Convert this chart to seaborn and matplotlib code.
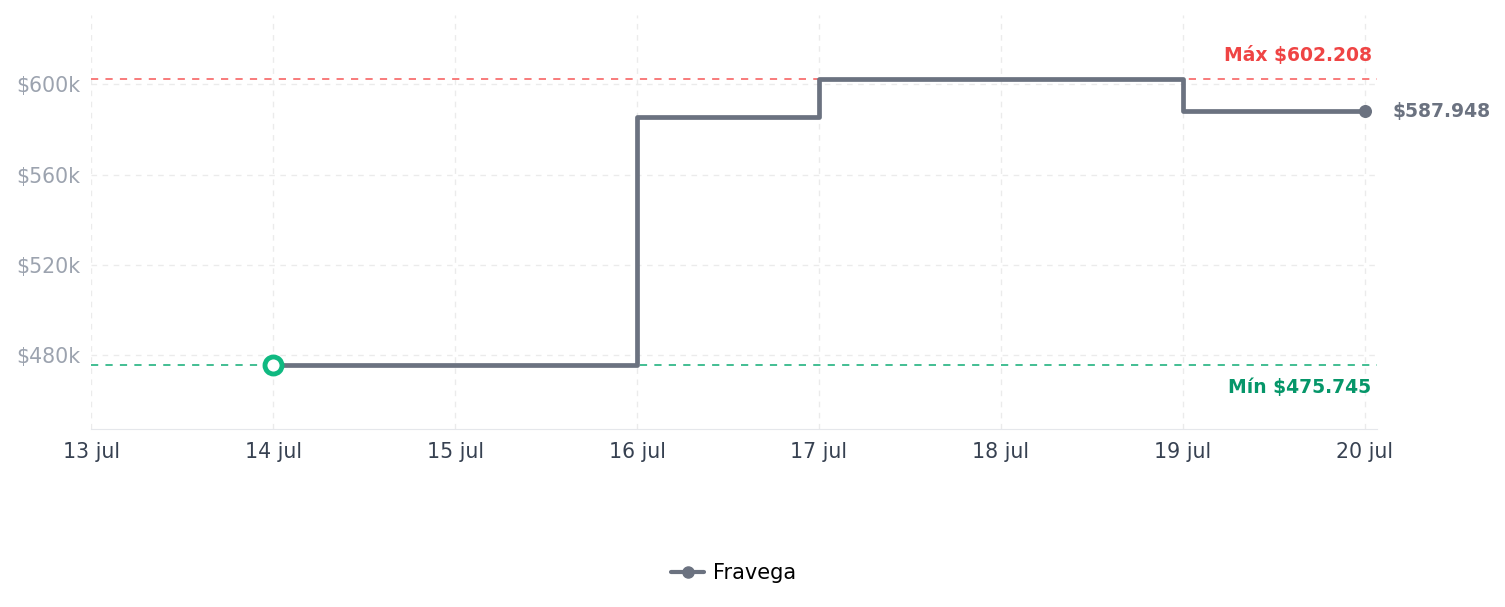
import pandas as pd
import matplotlib
matplotlib.use('Agg')
import matplotlib.pyplot as plt
import seaborn as sns

dates = ['2025-07-14', '2025-07-15', '2025-07-16', '2025-07-17',
         '2025-07-18', '2025-07-19', '2025-07-20']
prices = [475745, 475745, 585400, 602208, 602208, 587948, 587948]
store = 'Fravega'
max_price = 602208
min_price = 475745
y_ticks = [480000, 520000, 560000, 600000]
y_labels = ['$480k', '$520k', '$560k', '$600k']

data = pd.DataFrame({'date': pd.to_datetime(dates), 'price': prices, 'store': store})

sns.set_style('white')
plt.rcParams['font.family'] = ['DejaVu Sans']

fig = plt.figure(figsize=(15.05, 6.07), dpi=100)
ax = fig.add_axes([0.0605, 0.293, 0.8545, 0.682])

gray = '#6b7280'
sns.lineplot(data=data, x='date', y='price', ax=ax, color=gray, linewidth=3.4,
             drawstyle='steps-post', label=store, zorder=3)

# reference lines
ax.axhline(max_price, color='#f87171', linestyle=(0, (4, 4)), linewidth=1.3, zorder=2)
ax.axhline(min_price, color='#34b98a', linestyle=(0, (4, 4)), linewidth=1.3, zorder=2)

# start / end markers
ax.scatter(data['date'].iloc[0], prices[0], s=150, facecolor='white',
           edgecolor='#10b981', linewidth=3.5, zorder=5)
ax.scatter(data['date'].iloc[-1], prices[-1], s=70, color=gray, zorder=5)

days = pd.date_range('2025-07-13', '2025-07-20')
ax.set_xlim(days[0], days[-1] + pd.Timedelta(hours=1.6))
ax.set_ylim(447200, 630600)

ax.annotate(f'Máx ${max_price:,}'.replace(',', '.'), xy=(1, max_price),
            xycoords=('axes fraction', 'data'), xytext=(-4, 17), textcoords='offset points',
            ha='right', va='center', color='#ef4444', fontsize=13.5, fontweight='bold')
ax.annotate(f'Mín ${min_price:,}'.replace(',', '.'), xy=(1, min_price),
            xycoords=('axes fraction', 'data'), xytext=(-4, -16.5), textcoords='offset points',
            ha='right', va='center', color='#059669', fontsize=13.5, fontweight='bold')
ax.annotate(f'${prices[-1]:,}'.replace(',', '.'), xy=(data['date'].iloc[-1], prices[-1]),
            xytext=(20, 0), textcoords='offset points', ha='left', va='center',
            color=gray, fontsize=13.5, fontweight='bold')

ax.set_yticks(y_ticks)
ax.set_yticklabels(y_labels)
ax.set_xticks(days)
ax.set_xticklabels([f'{d.day} jul' for d in days])
ax.tick_params(axis='y', colors='#9ca3af', labelsize=14.8, length=0, pad=8)
ax.tick_params(axis='x', colors='#374151', labelsize=14.8, length=0, pad=9.5)
ax.set_xlabel('')
ax.set_ylabel('')

ax.grid(True, color='#ebebeb', linestyle=(0, (4, 4)), linewidth=1)
for s in ['top', 'right', 'left']:
    ax.spines[s].set_visible(False)
ax.spines['bottom'].set_color('#e5e7eb')

ax.get_legend().remove()
handle = plt.Line2D([], [], color=gray, linewidth=3, marker='o', markersize=8)
leg = fig.legend([handle], [store], loc='center', bbox_to_anchor=(0.4874, 0.056),
                 frameon=False, fontsize=15, handlelength=1.6, handletextpad=0.4)
for t in leg.get_texts():
    t.set_color('black')

fig.savefig('out.png', dpi=100)
